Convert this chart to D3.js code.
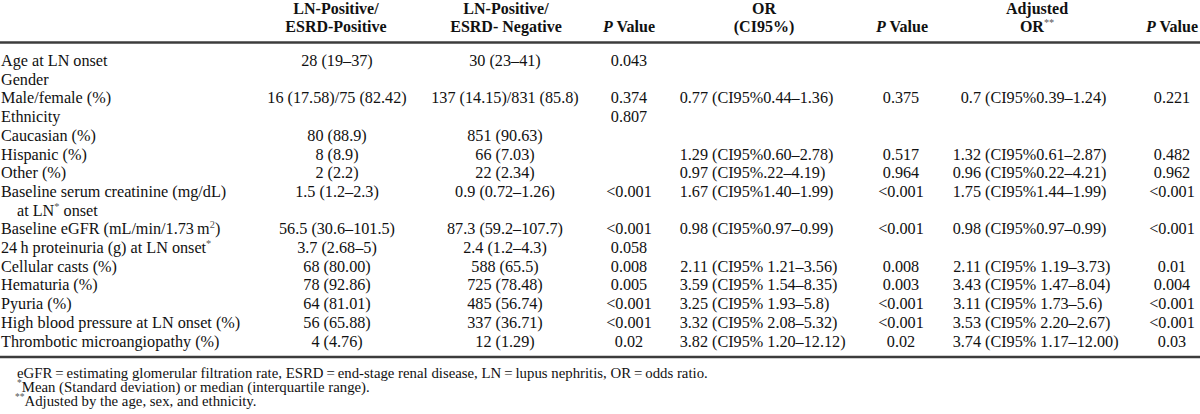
<!DOCTYPE html>
<html><head><meta charset="utf-8">
<script src="https://cdn.jsdelivr.net/npm/d3@7/dist/d3.min.js"></script>
<style>
html,body{margin:0;padding:0;background:#fff;}
svg{display:block;font-family:"Liberation Serif","Times New Roman",serif;}
</style></head><body>
<svg id="chart" width="1200" height="414"></svg>
<script>
// ---------- DATA ----------
const headerLine1 = ["", "LN-Positive/", "LN-Positive/", "", "OR", "", "Adjusted", ""];
const headerLine2 = ["", "ESRD-Positive", "ESRD- Negative", "{P} Value", "(CI95%)", "{P} Value", "OR^**^", "{P} Value"];

const rowLabels = [
  "Age at LN onset", "Gender", "Male/female (%)", "Ethnicity", "Caucasian (%)",
  "Hispanic (%)", "Other (%)", "Baseline serum creatinine (mg/dL)", "at LN^*^ onset",
  "Baseline eGFR (mL/min/1.73\u2009m^2^)", "24\u2009h proteinuria (g) at LN onset^*^",
  "Cellular casts (%)", "Hematuria (%)", "Pyuria (%)",
  "High blood pressure at LN onset (%)", "Thrombotic microangiopathy (%)"
];
const indentedRows = [8];
const esrdPositive = [
  "28 (19\u201337)", "", "16 (17.58)/75 (82.42)", "", "80 (88.9)", "8 (8.9)", "2 (2.2)",
  "1.5 (1.2\u20132.3)", "", "56.5 (30.6\u2013101.5)", "3.7 (2.68\u20135)", "68 (80.00)",
  "78 (92.86)", "64 (81.01)", "56 (65.88)", "4 (4.76)"
];
const esrdNegative = [
  "30 (23\u201341)", "", "137 (14.15)/831 (85.8)", "", "851 (90.63)", "66 (7.03)", "22 (2.34)",
  "0.9 (0.72\u20131.26)", "", "87.3 (59.2\u2013107.7)", "2.4 (1.2\u20134.3)", "588 (65.5)",
  "725 (78.48)", "485 (56.74)", "337 (36.71)", "12 (1.29)"
];
const pValues = [
  "0.043", "", "0.374", "0.807", "", "", "", "<0.001", "", "<0.001", "0.058",
  "0.008", "0.005", "<0.001", "<0.001", "0.02"
];
const orCI = [
  "", "", "0.77 (CI95%0.44\u20131.36)", "", "", "1.29 (CI95%0.60\u20132.78)", "0.97 (CI95%.22\u20134.19)",
  "1.67 (CI95%1.40\u20131.99)", "", "0.98 (CI95%0.97\u20130.99)", "",
  "2.11 (CI95% 1.21\u20133.56)", "3.59 (CI95% 1.54\u20138.35)", "3.25 (CI95% 1.93\u20135.8)",
  "3.32 (CI95% 2.08\u20135.32)", "3.82 (CI95% 1.20\u201312.12)"
];
const orP = [
  "", "", "0.375", "", "", "0.517", "0.964", "<0.001", "", "<0.001", "",
  "0.008", "0.003", "<0.001", "<0.001", "0.02"
];
const adjOR = [
  "", "", "0.7 (CI95%0.39\u20131.24)", "", "", "1.32 (CI95%0.61\u20132.87)", "0.96 (CI95%0.22\u20134.21)",
  "1.75 (CI95%1.44\u20131.99)", "", "0.98 (CI95%0.97\u20130.99)", "",
  "2.11 (CI95% 1.19\u20133.73)", "3.43 (CI95% 1.47\u20138.04)", "3.11 (CI95% 1.73\u20135.6)",
  "3.53 (CI95% 2.20\u20132.67)", "3.74 (CI95% 1.17\u201312.00)"
];
const adjP = [
  "", "", "0.221", "", "", "0.482", "0.962", "<0.001", "", "<0.001", "",
  "0.01", "0.004", "<0.001", "<0.001", "0.03"
];
const footnotes = [
  "eGFR\u2009=\u2009estimating glomerular filtration rate, ESRD\u2009=\u2009end-stage renal disease, LN\u2009=\u2009lupus nephritis, OR\u2009=\u2009odds ratio.",
  "^*^Mean (Standard deviation) or median (interquartile range).",
  "^**^Adjusted by the age, sex, and ethnicity."
];

// ---------- LAYOUT ----------
const W = 1200, H = 414;
const bodySize = 16.2, headSize = 16, footSize = 14.8;
const svg = d3.select("#chart");
const ink = "#111";

// rich text: ^sup^ and {italic}
function rich(sel, str, size) {
  const parts = str.split(/(\^[^^]*\^|\{[^}]*\})/).filter(s => s.length);
  let up = false;
  parts.forEach(p => {
    if (p.startsWith("^")) {
      sel.append("tspan").attr("dy", -size * 0.36).attr("font-size", size * 0.64)
        .attr("font-weight", "normal").attr("fill", "#555").text(p.slice(1, -1));
      up = true;
    } else if (p.startsWith("{")) {
      const t = sel.append("tspan").attr("font-style", "italic").text(p.slice(1, -1));
      if (up) { t.attr("dy", size * 0.36); up = false; }
    } else {
      const t = sel.append("tspan").text(p);
      if (up) { t.attr("dy", size * 0.36); up = false; }
    }
  });
}

const y = d3.scalePoint().domain(d3.range(rowLabels.length)).range([60.5, 341]);
const base = i => y(i) + 5.5;

// header
const headerCenters = [null, 336, 506, 629, 764, 902, 1037, 1172];
const hdr = svg.append("g").attr("font-size", headSize).attr("font-weight", "bold").attr("fill", ink);
headerLine1.forEach((t, i) => {
  if (!t) return;
  rich(hdr.append("text").attr("x", headerCenters[i]).attr("y", 14).attr("text-anchor", "middle"), t, headSize);
});
headerLine2.forEach((t, i) => {
  if (!t) return;
  rich(hdr.append("text").attr("x", headerCenters[i]).attr("y", 32).attr("text-anchor", "middle"), t, headSize);
});

// rules
svg.append("line").attr("x1", 0).attr("x2", W).attr("y1", 42.5).attr("y2", 42.5)
  .attr("stroke", "#3c3c3c").attr("stroke-width", 2.4);
svg.append("line").attr("x1", 0).attr("x2", W).attr("y1", 357).attr("y2", 357)
  .attr("stroke", "#3c3c3c").attr("stroke-width", 2.4);

const body = svg.append("g").attr("font-size", bodySize).attr("fill", ink);

// labels
body.selectAll("text.label").data(rowLabels).join("text").attr("class", "label")
  .attr("x", (d, i) => indentedRows.includes(i) ? 17 : 1)
  .attr("y", (d, i) => base(i))
  .each(function (d) { rich(d3.select(this), d, bodySize); });

// centered columns
function centeredCol(arr, cx) {
  body.append("g").selectAll("text").data(arr).join("text")
    .attr("x", cx).attr("y", (d, i) => base(i)).attr("text-anchor", "middle")
    .text(d => d);
}
centeredCol(esrdPositive, 337);
centeredCol(esrdNegative, 505);
centeredCol(pValues, 629);
centeredCol(orP, 901);
centeredCol(adjP, 1172);

// OR columns aligned at the number / bracket
function orCol(arr, numEnd) {
  const g = body.append("g");
  arr.forEach((d, i) => {
    if (!d) return;
    const k = d.indexOf(" ");
    g.append("text").attr("x", numEnd).attr("y", base(i)).attr("text-anchor", "end").text(d.slice(0, k));
    g.append("text").attr("x", numEnd + 4).attr("y", base(i)).text(d.slice(k + 1));
  });
}
orCol(orCI, 708);
orCol(adjOR, 981);

// footnotes
const fg = svg.append("g").attr("font-size", footSize).attr("fill", ink);
const fy = [377.5, 391.5, 405.5];
const fx = [17, 17, 15];
footnotes.forEach((t, i) => {
  rich(fg.append("text").attr("x", fx[i]).attr("y", fy[i]), t, footSize);
});
</script>
</body></html>
